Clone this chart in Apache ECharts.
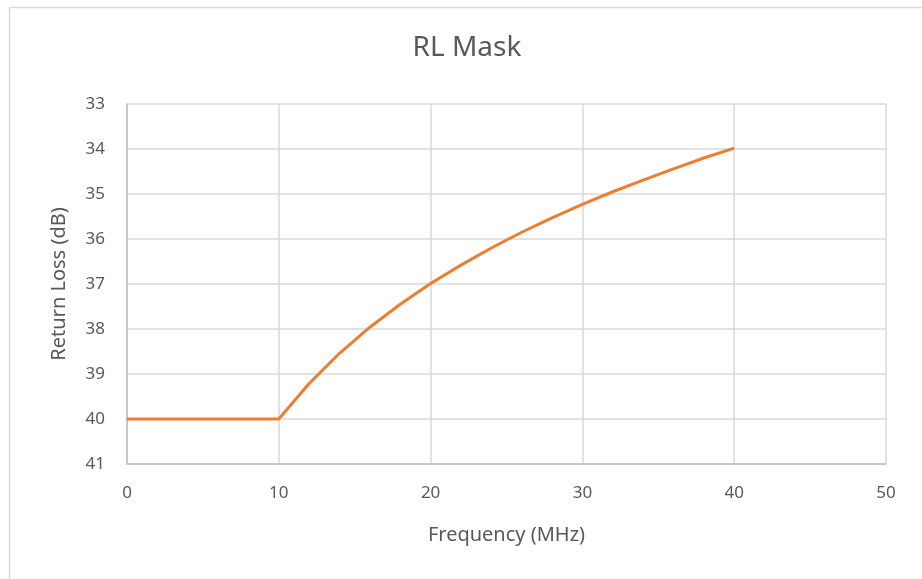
<!DOCTYPE html>
<html>
<head>
<meta charset="utf-8">
<script src="https://cdn.jsdelivr.net/npm/echarts@6/dist/echarts.min.js"></script>
<style>
html,body{margin:0;padding:0;background:#fff;}
#c{width:922px;height:579px;}
</style>
</head>
<body>
<div id="c"></div>
<script>
var freqMHz = [0, 10, 12, 14, 16, 18, 20, 22, 24, 26, 28, 30, 32, 34, 36, 38, 40];
var returnLossDb = [40, 40, 39.21, 38.54, 37.96, 37.45, 36.99, 36.58, 36.20, 35.85, 35.53, 35.23, 34.95, 34.69, 34.44, 34.20, 33.98];
var titleText = 'RL Mask';
var xName = 'Frequency (MHz)';
var yName = 'Return Loss (dB)';

var chart = echarts.init(document.getElementById('c'), null, {renderer: 'canvas'});
var font = '"Noto Sans", "Open Sans", sans-serif';
var txt = '#595959';
chart.setOption({
  animation: false,
  backgroundColor: '#fff',
  graphic: [{
    type: 'rect', left: 7, top: 5,
    shape: {width: 940, height: 600},
    style: {fill: 'none', stroke: '#d9d9d9', lineWidth: 1.5},
    silent: true
  }, {
    type: 'text', x: 467, y: 48,
    style: {text: titleText, align: 'center', verticalAlign: 'middle', fontFamily: font, fontSize: 28, fill: txt},
    silent: true
  }],
  grid: {left: 127, right: 36, top: 104, bottom: 115},
  xAxis: {
    type: 'value', min: 0, max: 50, interval: 10,
    name: xName, nameLocation: 'middle', nameGap: 61,
    nameTextStyle: {fontFamily: font, fontSize: 20, color: txt},
    axisLine: {show: true, lineStyle: {color: '#bfbfbf', width: 1.5}},
    axisTick: {show: false},
    axisLabel: {fontFamily: font, fontSize: 17, color: txt, margin: 21},
    splitLine: {show: true, lineStyle: {color: '#d9d9d9', width: 1.5}}
  },
  yAxis: {
    type: 'value', min: 33, max: 41, interval: 1, inverse: true,
    name: yName, nameLocation: 'middle', nameGap: 58,
    nameTextStyle: {fontFamily: font, fontSize: 20, color: txt},
    axisLine: {show: true, lineStyle: {color: '#bfbfbf', width: 1.5}},
    axisTick: {show: false},
    axisLabel: {fontFamily: font, fontSize: 17, color: txt, margin: 22},
    splitLine: {show: true, lineStyle: {color: '#d9d9d9', width: 1.5}}
  },
  series: [{
    type: 'line',
    data: freqMHz.map(function (f, i) { return [f, returnLossDb[i]]; }),
    showSymbol: false,
    smooth: false,
    lineStyle: {color: '#ED7D31', width: 3},
    itemStyle: {color: '#ED7D31'}
  }]
});
</script>
</body>
</html>
